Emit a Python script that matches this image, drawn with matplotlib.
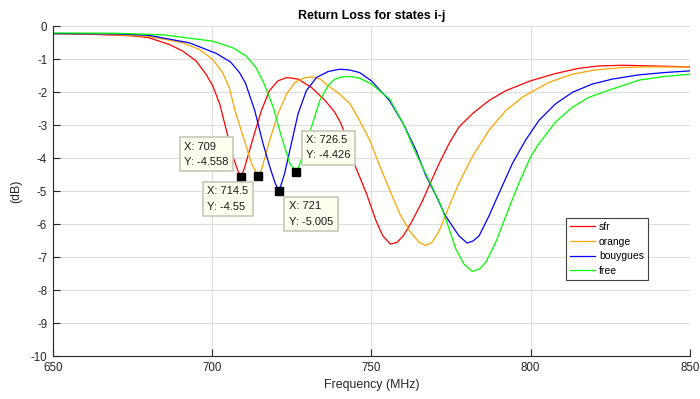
#return loss plot for states i-j
import numpy as np
import matplotlib
matplotlib.use("Agg")
import matplotlib.pyplot as plt

plt.rcParams["font.family"] = ["Liberation Sans", "DejaVu Sans"]
plt.rcParams["axes.unicode_minus"] = False

#data (MHz, dB)
sfr_freq = [650, 665, 675, 680, 686.6, 690.8, 695, 698.1, 700.2, 702.4, 704.5, 706.6, 708, 709,
            710, 711.5, 713, 715.5, 718, 720.7, 723.5, 727, 731.2, 735.5, 738.5, 740.5,
            743, 745, 748.4, 749.5, 751.5, 753.6, 756, 758, 760, 762.5, 766, 768.5, 771.3,
            774.4, 777.5, 781.7, 786.9, 792.2, 800, 807.8, 815.2, 821.4, 828.7, 834, 842, 850]
sfr_db = [-0.22, -0.25, -0.29, -0.34, -0.55, -0.75, -1.05, -1.45, -1.8, -2.35, -3.15, -3.95, -4.35, -4.558,
          -4.35, -3.85, -3.35, -2.55, -1.95, -1.65, -1.55, -1.6, -1.85, -2.25, -2.6, -2.95,
          -3.6, -4.25, -5.05, -5.35, -5.9, -6.35, -6.6, -6.55, -6.35, -5.95, -5.3, -4.75, -4.15,
          -3.55, -3.05, -2.65, -2.25, -1.95, -1.65, -1.43, -1.27, -1.2, -1.18, -1.19, -1.21, -1.23]

orange_freq = [650, 665, 680, 690.8, 696, 700.2, 703.3, 705.4, 707.2, 709.8, 712.4, 714.5, 715.5,
               718.1, 720.7, 723.4, 726, 729, 731.5, 734, 736.4, 740, 743.3, 746, 749.5,
               752.5, 755.7, 759, 762, 765, 767, 769, 771.3, 774.4, 777.5, 781.7, 786.9, 792.2,
               797.4, 800, 805.7, 813.1, 820.4, 828.7, 836, 850]
orange_db = [-0.22, -0.24, -0.3, -0.5, -0.7, -1.0, -1.4, -1.85, -2.55, -3.35, -4.15, -4.55, -4.35,
             -3.45, -2.65, -2.05, -1.7, -1.56, -1.53, -1.6, -1.8, -2.05, -2.35, -2.8, -3.45,
             -4.2, -4.95, -5.7, -6.2, -6.55, -6.64, -6.55, -6.2, -5.45, -4.75, -3.95, -3.15, -2.55,
             -2.15, -2.0, -1.7, -1.45, -1.32, -1.25, -1.23, -1.23]

bouygues_freq = [650, 670, 680, 692.9, 701.3, 705.8, 708.6, 710.5, 713.4, 716, 718.1, 719.8,
                 721, 722.8, 724.9, 727, 729.6, 732.8, 736.4, 740, 743, 746.3, 750, 755.7,
                 760, 764, 767, 770.4, 773, 775.4, 777.5, 780.1, 782, 783.8, 786.9, 790.1, 794.3,
                 798.4, 802.6, 807.8, 813.1, 819.3, 825.6, 834, 842, 850]
bouygues_db = [-0.22, -0.23, -0.27, -0.5, -0.82, -1.08, -1.4, -1.72, -2.55, -3.55, -4.25, -4.75,
               -5.005, -4.45, -3.55, -2.65, -1.95, -1.55, -1.37, -1.3, -1.32, -1.4, -1.65, -2.25,
               -2.95, -3.75, -4.5, -5.15, -5.7, -6.05, -6.35, -6.57, -6.5, -6.35, -5.75, -5.05, -4.15,
               -3.45, -2.85, -2.35, -2.0, -1.75, -1.6, -1.47, -1.4, -1.35]

free_freq = [650, 670, 685, 700.2, 706.5, 710.7, 713.8, 716.4, 719.2, 721.8, 724.4,
             726.5, 728, 731.2, 733.8, 736.4, 738.5, 741, 743.5, 746.3, 750, 755.7, 760,
             764, 767, 769.5, 771.5, 773.4, 776.5, 779, 781.7, 784, 785.9, 789, 792.2, 796.3,
             800, 802.6, 807.8, 813.1, 818.3, 825.6, 834, 842, 850]
free_db = [-0.2, -0.21, -0.26, -0.45, -0.65, -0.9, -1.25, -1.75, -2.45, -3.35, -4.15,
           -4.426, -4.05, -3.05, -2.25, -1.8, -1.6, -1.53, -1.52, -1.57, -1.75, -2.2, -2.95,
           -3.85, -4.45, -4.95, -5.35, -5.85, -6.75, -7.2, -7.43, -7.35, -7.15, -6.55, -5.75, -4.75,
           -3.95, -3.55, -2.9, -2.45, -2.15, -1.9, -1.63, -1.52, -1.45]

labels = ["sfr", "orange", "bouygues", "free"]
colors = ["#ff0000", "#ffa500", "#0000ff", "#00ff00"]

#data tips
tip_x = [709, 714.5, 721, 726.5]
tip_y = [-4.558, -4.55, -5.005, -4.426]
tip_text = ["X: 709\nY: -4.558", "X: 714.5\nY: -4.55", "X: 721\nY: -5.005", "X: 726.5\nY: -4.426"]
tip_offset = [(-12, 10), (-10, -10), (10, -10), (10, 12)]
tip_align = [("right", "bottom"), ("right", "top"), ("left", "top"), ("left", "bottom")]


fig = plt.figure(figsize=(7, 3.99), dpi=100)
ax = fig.add_axes([0.0753, 0.107, 0.9104, 0.827])

series = [(sfr_freq, sfr_db), (orange_freq, orange_db),
          (bouygues_freq, bouygues_db), (free_freq, free_db)]
for (f, db), lab, col in zip(series, labels, colors):
    ax.plot(f, db, color=col, lw=0.9, label=lab)

#markers + boxes
ax.plot(tip_x, tip_y, "s", color="black", ms=6, zorder=5)
for x, y, t, off, al in zip(tip_x, tip_y, tip_text, tip_offset, tip_align):
    ax.annotate(t, (x, y), xytext=off, textcoords="offset pixels",
                ha=al[0], va=al[1], multialignment="left", fontsize=8, color="#1a1a1a",
                linespacing=1.65,
                bbox=dict(boxstyle="square,pad=0.4", fc="#fffff0", ec="#c8c8b8", lw=1.2),
                zorder=6)

ax.set_xlim(650, 850)
ax.set_ylim(-10, 0)
ax.set_xticks(np.arange(650, 851, 50))
ax.set_yticks(np.arange(-10, 1, 1))
ax.grid(True, color="#dedede", lw=0.8)
ax.set_axisbelow(True)
for s in ["top", "right"]:
    ax.spines[s].set_visible(False)
for s in ["left", "bottom"]:
    ax.spines[s].set_color("#262626")
    ax.spines[s].set_linewidth(0.8)
ax.tick_params(direction="in", length=5, width=0.8, colors="#262626", labelsize=8.3, pad=4)

ax.set_title("Return Loss for states i-j", fontsize=9, fontweight="bold", pad=5)
ax.set_xlabel("Frequency (MHz)", fontsize=8.9, color="#262626", labelpad=4)
ax.set_ylabel("(dB)", fontsize=8.9, color="#262626", labelpad=6)

leg = ax.legend(loc="upper left", bbox_to_anchor=(0.805, 0.42), borderaxespad=0,
                fontsize=7.5, handlelength=2.4, labelspacing=0.45, handletextpad=0.4,
                borderpad=0.4, fancybox=False, framealpha=1)
leg.get_frame().set_edgecolor("#404040")
leg.get_frame().set_linewidth(0.8)

fig.savefig("out.png", dpi=100)
